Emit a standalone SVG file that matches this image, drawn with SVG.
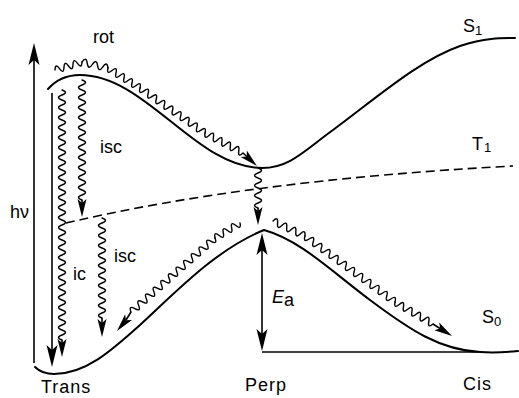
<svg xmlns="http://www.w3.org/2000/svg" width="519" height="398" viewBox="0 0 519 398">
<style>
.curve{fill:none;stroke:#000;stroke-width:2;stroke-linecap:round}
.dash{fill:none;stroke:#000;stroke-width:1.6;stroke-dasharray:9 5}
.line{fill:none;stroke:#000;stroke-width:1.6}
.wave{fill:none;stroke:#000;stroke-width:1.4;stroke-linecap:round;stroke-linejoin:round}
.ah{fill:#000}
text{font-family:"Liberation Sans",Arial,sans-serif;font-size:18px;fill:#000}
.sub{font-size:13px}
</style>
<defs>
<path id="ahs" d="M0,0 L-18,-4.5 L-14,0 L-18,4.5 Z"/>
<path id="ahb" d="M0,0 L-22,-5.5 L-17,0 L-22,5.5 Z"/>
</defs>
<g id="S1"><path class="curve" d="M48,89 C56,80 66,75 80,75 C146,75 196,168 262,168 C290,168 305,150 333,130 C380,95 420,60 460,46 C485,38 500,38 515,38"/></g>
<g id="T1"><path class="dash" d="M66,223 Q250,180 513,166"/></g>
<g id="S0"><path class="curve" d="M35,367 C40,372 46,374 54,374 C85,374 110,352 140,325 C175,293 215,250 264,230 C300,240 330,270 370,300 C410,330 440,350 480,352 C495,353 508,352 518,351"/><path class="line" d="M262,352 H478"/></g>
<g id="connectors">
<g id="hv"><path class="line" d="M34,363 V60"/><use href="#ahb" class="ah" transform="translate(34,43) rotate(-90)"/></g>
<g id="absorb"><path class="line" d="M52,93 V351"/><use href="#ahb" class="ah" transform="translate(52,367) rotate(90)"/></g>
<g id="Ea"><path class="line" d="M262,250 V335"/><use href="#ahb" class="ah" transform="translate(262,233) rotate(-90)"/><use href="#ahb" class="ah" transform="translate(262,351) rotate(90)"/></g>
<g id="ic">
<path class="wave" transform="translate(62,90) rotate(90)" d="M0,0 q2.5,-7 5,0 t5,0 t5,0 t5,0 t5,0 t5,0 t5,0 t5,0 t5,0 t5,0 t5,0 t5,0 t5,0 t5,0 t5,0 t5,0 t5,0 t5,0 t5,0 t5,0 t5,0 t5,0 t5,0 t5,0 t5,0 t5,0 t5,0 t5,0 t5,0 t5,0 t5,0 t5,0 t5,0 t5,0 t5,0 t5,0 t5,0 t5,0 t5,0 t5,0 t5,0 t5,0 t5,0 t5,0 t5,0 t5,0 t5,0 t5,0 t5,0 t5,0"/>
<path class="line" d="M62,340 V344"/><use href="#ahs" class="ah" transform="translate(62,357) rotate(90)"/>
</g>
<g id="isc1">
<path class="wave" transform="translate(82,80) rotate(90)" d="M0,0 q2.5,-7 5,0 t5,0 t5,0 t5,0 t5,0 t5,0 t5,0 t5,0 t5,0 t5,0 t5,0 t5,0 t5,0 t5,0 t5,0 t5,0 t5,0 t5,0 t5,0 t5,0 t5,0 t5,0 t5,0 t5,0"/>
<path class="line" d="M82,200 V204"/><use href="#ahs" class="ah" transform="translate(82,217) rotate(90)"/>
</g>
<g id="isc2">
<path class="wave" transform="translate(102,218) rotate(90)" d="M0,0 q2.5,-7 5,0 t5,0 t5,0 t5,0 t5,0 t5,0 t5,0 t5,0 t5,0 t5,0 t5,0 t5,0 t5,0 t5,0 t5,0 t5,0 t5,0 t5,0 t5,0 t5,0"/>
<path class="line" d="M102,318 V324"/><use href="#ahs" class="ah" transform="translate(102,337) rotate(90)"/>
</g>
<g id="perp">
<path class="wave" transform="translate(258,168) rotate(90)" d="M0,0 q2.5,-7 5,0 t5,0 t5,0 t5,0 t5,0 t5,0 t5,0 t5,0"/>
<path class="line" d="M258,208 V212"/><use href="#ahs" class="ah" transform="translate(258,225) rotate(90)"/>
</g>
<g id="rot">
<path class="wave" transform="translate(55,70) rotate(-16.5)" d="M0,0 q2.345,-7 4.69,0 t4.69,0 t4.69,0 t4.69,0 t4.69,0 t4.69,0"/>
<path class="wave" transform="translate(82,62) rotate(13)" d="M0,0 q2.67,-7 5.34,0 t5.34,0 t5.34,0 t5.34,0 t5.34,0"/>
<path class="wave" transform="translate(108,68) rotate(32)" d="M0,0 q2.36,7 4.72,0 t4.72,0 t4.72,0 t4.72,0 t4.72,0 t4.72,0 t4.72,0 t4.72,0"/>
<path class="wave" transform="translate(140,88) rotate(34.7)" d="M0,0 q2.47,7 4.94,0 t4.94,0 t4.94,0 t4.94,0 t4.94,0 t4.94,0 t4.94,0 t4.94,0 t4.94,0 t4.94,0 t4.94,0 t4.94,0 t4.94,0 t4.94,0 t4.94,0 t4.94,0"/>
<path class="wave" transform="translate(205,133) rotate(27.76)" d="M0,0 q2.385,7 4.77,0 t4.77,0 t4.77,0 t4.77,0 t4.77,0 t4.77,0 t4.77,0 t4.77,0 t4.77,0"/>
<path class="line" d="M243,153 L246.8,156.5"/><use href="#ahs" class="ah" transform="translate(257,166) rotate(42.9)"/>
</g>
<g id="relax-trans">
<path class="wave" transform="translate(240,223) rotate(149.04)" d="M0,0 q2.43,-7 4.86,0 t4.86,0 t4.86,0 t4.86,0 t4.86,0 t4.86,0"/>
<path class="wave" transform="translate(215,238) rotate(138.62)" d="M0,0 q2.545,-7 5.09,0 t5.09,0 t5.09,0 t5.09,0 t5.09,0 t5.09,0 t5.09,0 t5.09,0 t5.09,0 t5.09,0 t5.09,0 t5.09,0 t5.09,0 t5.09,0 t5.09,0 t5.09,0 t5.09,0 t5.09,0 t5.09,0 t5.09,0 t5.09,0 t5.09,0"/>
<path class="line" d="M131,312 L126,320"/><use href="#ahs" class="ah" transform="translate(117,331) rotate(130)"/>
</g>
<g id="relax-cis">
<path class="wave" transform="translate(273,221) rotate(25.11)" d="M0,0 q2.525,-7 5.05,0 t5.05,0 t5.05,0 t5.05,0 t5.05,0 t5.05,0 t5.05,0"/>
<path class="wave" transform="translate(305,236) rotate(36.25)" d="M0,0 q2.535,7 5.07,0 t5.07,0 t5.07,0 t5.07,0 t5.07,0 t5.07,0 t5.07,0 t5.07,0 t5.07,0 t5.07,0 t5.07,0 t5.07,0 t5.07,0 t5.07,0 t5.07,0 t5.07,0 t5.07,0 t5.07,0 t5.07,0 t5.07,0 t5.07,0 t5.07,0"/>
<path class="wave" transform="translate(395,302) rotate(30.07)" d="M0,0 q2.44,7 4.88,0 t4.88,0 t4.88,0 t4.88,0 t4.88,0 t4.88,0 t4.88,0 t4.88,0 t4.88,0"/>
<path class="line" d="M433,324 L440,328.5"/><use href="#ahs" class="ah" transform="translate(452,336) rotate(32.3)"/>
</g>
</g>
<g id="labels">
<text x="93" y="43">rot</text>
<text x="100" y="153">isc</text>
<text x="10" y="218">hν</text>
<text x="73" y="280">ic</text>
<text x="114" y="262">isc</text>
<text x="463" y="32">S<tspan class="sub" dy="3">1</tspan></text>
<text x="472" y="150">T<tspan class="sub" dx="1" dy="2">1</tspan></text>
<text x="482" y="323">S<tspan class="sub" dy="3">0</tspan></text>
<text x="272" y="303"><tspan font-style="italic">E</tspan><tspan dy="3">a</tspan></text>
<text x="41" y="393" letter-spacing="1">Trans</text>
<text x="245" y="391" letter-spacing="1">Perp</text>
<text x="463" y="390" letter-spacing="1">Cis</text>
</g>
</svg>
